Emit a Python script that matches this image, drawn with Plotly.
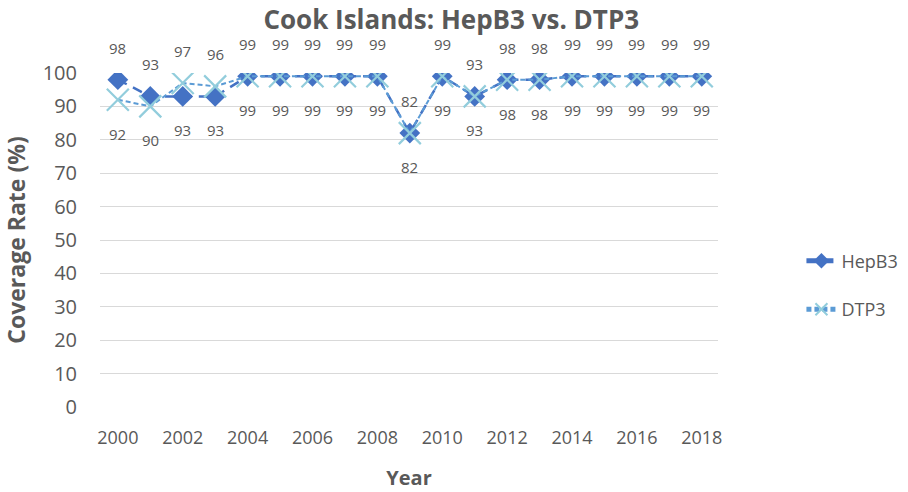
import plotly.graph_objects as go

years = list(range(2000, 2019))
hepb3 = [98, 93, 93, 93, 99, 99, 99, 99, 99, 82, 99, 93, 98, 98, 99, 99, 99, 99, 99]
dtp3 = [92, 90, 97, 96, 99, 99, 99, 99, 99, 82, 99, 93, 98, 98, 99, 99, 99, 99, 99]
y_ticks = list(range(0, 101, 10))
x_ticks = list(range(2000, 2019, 2))

FONT = "Open Sans"
GRAY = "#595959"

fig = go.Figure()
fig.add_trace(go.Scatter(
    x=years, y=hepb3, name="HepB3", mode="lines+markers", legendgroup="a",
    line=dict(color="#4472C4", width=2.5, dash="10px,7px"),
    marker=dict(symbol="diamond", size=16, color="#4472C4"),
))
fig.add_trace(go.Scatter(
    x=years, y=dtp3, name="DTP3", mode="lines+markers", legendgroup="b",
    line=dict(color="#5B9BD5", width=2, dash="5px,3px"),
    marker=dict(symbol="x-thin", size=22, color="#92CDDC",
                line=dict(width=2.2, color="#92CDDC")),
))

# data labels: higher value above, lower value below
for yr, h, d in zip(years, hepb3, dtp3):
    h_up = h >= d
    for val, up in ((h, h_up), (d, not h_up)):
        fig.add_annotation(x=yr, y=val, xref="x", yref="y", text=str(val),
                           showarrow=False, yshift=32 if up else -34,
                           font=dict(family=FONT, size=15, color=GRAY))

fig.update_layout(
    width=908, height=492,
    margin=dict(l=100, r=190, t=73, b=85, autoexpand=False),
    paper_bgcolor="white", plot_bgcolor="white",
    font=dict(family=FONT, color=GRAY),
    title=dict(text="<b>Cook Islands: HepB3 vs. DTP3</b>", x=0.497, xanchor="center",
               xref="container", y=0.96, yanchor="middle",
               font=dict(family=FONT, size=26, color=GRAY)),
    xaxis=dict(range=[1999.45, 2018.5], tickvals=x_ticks, showgrid=False, zeroline=False,
               showline=False, ticks="", automargin=False, ticklabelstandoff=18,
               tickfont=dict(size=18, color=GRAY),
               title=dict(text="<b>Year</b>", font=dict(size=20, color=GRAY), standoff=22)),
    yaxis=dict(range=[0, 100], tickvals=y_ticks, showgrid=True, gridcolor="#D9D9D9",
               gridwidth=1, zeroline=False, showline=False, ticks="", automargin=False,
               tickfont=dict(size=20, color=GRAY), ticklabelstandoff=22,
               title=dict(text="<b>Coverage Rate (%)</b>", font=dict(size=23, color=GRAY), standoff=10)),
    legend=dict(x=1.135, y=0.365, xanchor="left", yanchor="middle", tracegroupgap=22,
                traceorder="grouped", itemsizing="constant",
                font=dict(size=18, color=GRAY)),
    showlegend=True,
)

fig.write_html("out.html", config={"displayModeBar": False},
               post_script="document.body.style.margin='0px';")
